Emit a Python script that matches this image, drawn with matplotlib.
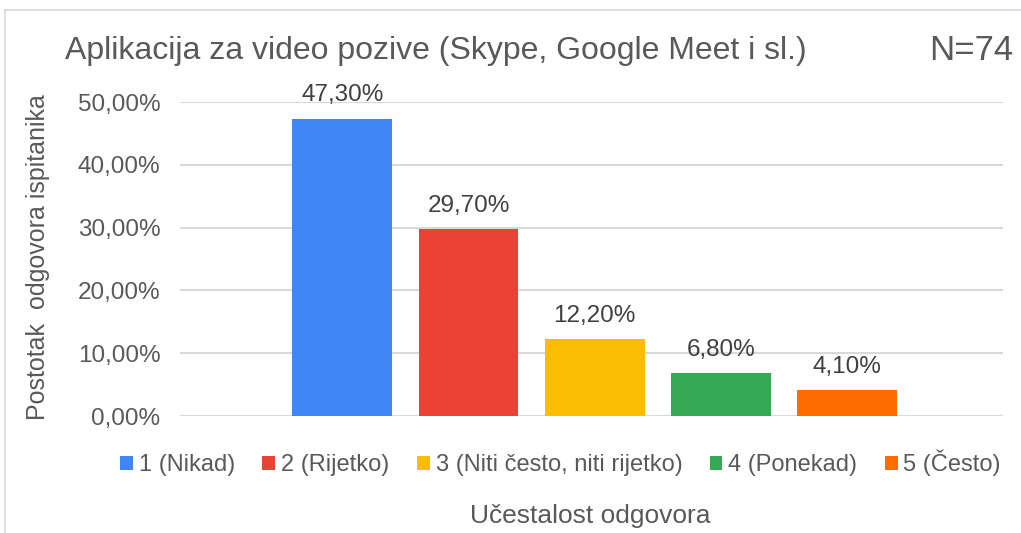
import matplotlib.pyplot as plt
from matplotlib.patches import Patch
from matplotlib.lines import Line2D

plt.rcParams['font.family'] = ['Liberation Sans', 'DejaVu Sans']

# Data
categories = ['1 (Nikad)', '2 (Rijetko)', '3 (Niti često, niti rijetko)', '4 (Ponekad)', '5 (Često)']
values = [47.30, 29.70, 12.20, 6.80, 4.10]
colors = ['#4285F4', '#EA4335', '#FBBC04', '#34A853', '#FF6D01']
yticks = [0, 10, 20, 30, 40, 50]

txt = '#595959'

fig = plt.figure(figsize=(10.21, 5.33), dpi=100)
ax = fig.add_axes([0.1763, 0.2195, 0.8061, 0.5891])

x = range(len(values))
bars = ax.bar(x, values, width=0.79, color=colors, zorder=3)

for xi, v in zip(x, values):
    ax.text(xi, v + 2.0, f'{v:.2f}%'.replace('.', ','), ha='center', va='bottom',
            fontsize=17.5, color='#404040')

ax.set_xlim(-1.285, 5.235)
ax.set_ylim(0, 50)
ax.set_yticks(yticks)
ax.set_yticklabels([f'{t:.2f}%'.replace('.', ',') for t in yticks], fontsize=17.5, color=txt)
ax.set_xticks([])
ax.tick_params(axis='y', length=0, pad=14)
ax.grid(axis='y', color='#D9D9D9', linewidth=1.5, zorder=0)
for s in ax.spines.values():
    s.set_visible(False)

fig.text(0.037, 0.518, 'Postotak  odgovora ispitanika', rotation=90, ha='center', va='center',
         fontsize=18, color=txt)
fig.text(0.578, 0.032, 'Učestalost odgovora', ha='center', va='center', fontsize=19, color=txt)
fig.text(0.064, 0.905, 'Aplikacija za video pozive (Skype, Google Meet i sl.)', ha='left', va='center',
         fontsize=23, color=txt)
fig.text(0.992, 0.905, 'N=74', ha='right', va='center', fontsize=25, color=txt)

handles = [Patch(facecolor=c) for c in colors]
fig.legend(handles, categories, loc='center', bbox_to_anchor=(0.549, 0.131), ncol=5, frameon=False,
           fontsize=17, labelcolor=txt, handlelength=0.55, handleheight=0.55, handletextpad=0.25,
           columnspacing=1.15)

# chart border
fig.add_artist(Line2D([0.005, 0.005], [0, 0.981], color='#D9D9D9', linewidth=1.2))
fig.add_artist(Line2D([0.005, 1], [0.981, 0.981], color='#D9D9D9', linewidth=1.2))

fig.savefig('out.png', dpi=100)
